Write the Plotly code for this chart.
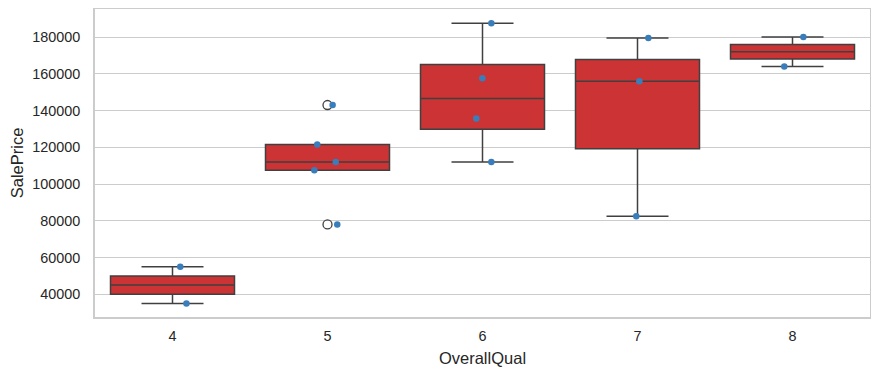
import numpy as np
import plotly.graph_objects as go

# ---- data ----
categories = ["4", "5", "6", "7", "8"]
prices_4 = [55000, 35000]
prices_5 = [143000, 121500, 112000, 107500, 78000]
prices_6 = [187500, 157500, 135700, 112000]
prices_7 = [179500, 156000, 82500]
prices_8 = [180000, 164000]
groups = [prices_4, prices_5, prices_6, prices_7, prices_8]
# strip-plot jitter offsets (category units)
jitter_4 = [0.05, 0.09]
jitter_5 = [0.033, -0.066, 0.053, -0.085, 0.063]
jitter_6 = [0.057, -0.001, -0.040, 0.057]
jitter_7 = [0.07, 0.012, -0.008]
jitter_8 = [0.07, -0.053]
jitters = [jitter_4, jitter_5, jitter_6, jitter_7, jitter_8]
y_ticks = [40000, 60000, 80000, 100000, 120000, 140000, 160000, 180000]

BOX_FILL = "#cb3335"
LINE = "#404040"
DOT = "#3a7dbb"
FONT = "Liberation Sans, Arial, sans-serif"

fig = go.Figure()

for i, vals in enumerate(groups):
    v = np.array(vals, dtype=float)
    q1, med, q3 = np.percentile(v, [25, 50, 75])
    iqr = q3 - q1
    lo_lim, hi_lim = q1 - 1.5 * iqr, q3 + 1.5 * iqr
    inside = v[(v >= lo_lim) & (v <= hi_lim)]
    lf, uf = inside.min(), inside.max()
    fig.add_trace(go.Box(
        x=[i], q1=[q1], median=[med], q3=[q3], lowerfence=[lf], upperfence=[uf],
        width=0.8, whiskerwidth=0.5, fillcolor=BOX_FILL,
        line=dict(color=LINE, width=1.5), boxpoints=False, showlegend=False,
        hoverinfo="skip",
    ))
    outl = v[(v < lo_lim) | (v > hi_lim)]
    if len(outl):
        fig.add_trace(go.Scatter(
            x=[i] * len(outl), y=outl, mode="markers", showlegend=False,
            marker=dict(symbol="circle", size=9, color="rgba(255,255,255,0)",
                        line=dict(color=LINE, width=1.3)),
            hoverinfo="skip",
        ))

for i, vals in enumerate(groups):
    xs = [i + j for j in jitters[i]]
    fig.add_trace(go.Scatter(
        x=xs, y=vals, mode="markers", showlegend=False,
        marker=dict(size=6.5, color=DOT, line=dict(width=0)),
    ))

# the page body has an 8px margin, so the figure is sized to fit the window
fig.update_layout(
    width=871, height=367,
    margin=dict(l=87, r=9, t=1, b=58),
    paper_bgcolor="white", plot_bgcolor="white",
    font=dict(family=FONT, color="#262626", size=14.4),
)
fig.update_xaxes(
    range=[-0.5, 4.5], tickmode="array", tickvals=list(range(len(categories))),
    ticktext=categories, showgrid=False, zeroline=False, automargin=False,
    showline=True, mirror=True, linecolor="#cccccc", linewidth=1.5,
    ticks="outside", ticklen=5, tickcolor="rgba(0,0,0,0)",
    title=dict(text="OverallQual", font=dict(size=16.5), standoff=9),
)
fig.update_yaxes(
    range=[27640, 195253], tickmode="array", tickvals=y_ticks,
    tickformat="d", showgrid=True, gridcolor="#cccccc", gridwidth=1,
    zeroline=False, showline=True, mirror=True, linecolor="#cccccc", linewidth=1.5,
    ticks="outside", ticklen=10, tickcolor="rgba(0,0,0,0)", automargin=False,
    title=dict(text="SalePrice", font=dict(size=16.5), standoff=5),
)

fig.write_html("out.html")
